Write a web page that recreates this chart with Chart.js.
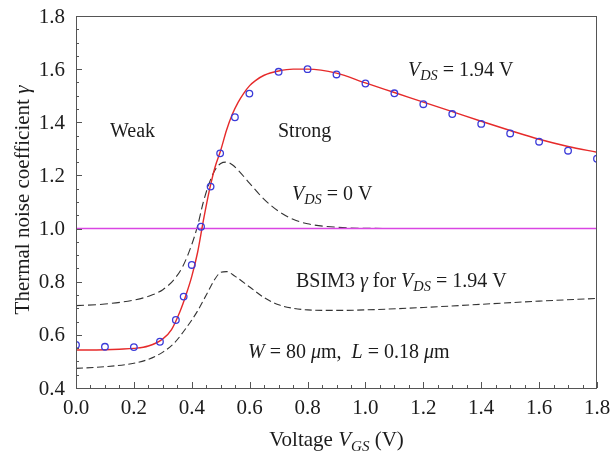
<!DOCTYPE html>
<html>
<head>
<meta charset="utf-8">
<script src="https://cdn.jsdelivr.net/npm/chart.js@4"></script>
<style>
  html, body { margin: 0; padding: 0; background: #fff; }
  #wrap { width: 613px; height: 457px; }
</style>
</head>
<body>
<div id="wrap"><canvas id="c"></canvas></div>
<script>
// --- data ---
// measured points (circles)
const measVgs   = [0.0, 0.1, 0.2, 0.29, 0.345, 0.372, 0.4, 0.432, 0.465, 0.498, 0.549, 0.599, 0.7, 0.8, 0.9, 1.0, 1.1, 1.2, 1.3, 1.4, 1.5, 1.6, 1.7, 1.8];
const measGamma = [0.562, 0.555, 0.554, 0.574, 0.656, 0.744, 0.863, 1.007, 1.158, 1.283, 1.419, 1.508, 1.590, 1.600, 1.580, 1.546, 1.509, 1.468, 1.431, 1.394, 1.358, 1.327, 1.293, 1.263];

// model fit for VDS = 1.94 V (red)
const fitVgs   = [0.0, 0.05, 0.1, 0.15, 0.2, 0.25, 0.3, 0.33, 0.36, 0.38, 0.4, 0.42, 0.44, 0.46, 0.48, 0.5, 0.52, 0.54, 0.56, 0.58, 0.6, 0.62, 0.65, 0.7, 0.75, 0.8, 0.9, 1.0, 1.1, 1.2, 1.3, 1.4, 1.5, 1.6, 1.7, 1.8];
const fitGamma = [0.543, 0.543, 0.544, 0.546, 0.549, 0.558, 0.585, 0.62, 0.69, 0.75, 0.82, 0.91, 1.03, 1.14, 1.23, 1.295, 1.37, 1.43, 1.475, 1.51, 1.538, 1.557, 1.577, 1.593, 1.6, 1.6, 1.585, 1.548, 1.512, 1.476, 1.44, 1.404, 1.369, 1.336, 1.309, 1.287];

// VDS = 0 V curve (upper dashed)
const zeroVgs   = [0.0, 0.1, 0.2, 0.25, 0.3, 0.34, 0.37, 0.4, 0.42, 0.44, 0.46, 0.48, 0.5, 0.52, 0.54, 0.56, 0.6, 0.65, 0.7, 0.75, 0.8, 0.9, 1.0, 1.2, 1.5, 1.8];
const zeroGamma = [0.71, 0.716, 0.731, 0.745, 0.77, 0.81, 0.86, 0.94, 1.01, 1.1, 1.17, 1.22, 1.245, 1.25, 1.24, 1.22, 1.17, 1.11, 1.065, 1.035, 1.018, 1.005, 1.001, 1.0, 1.0, 1.0];

// BSIM3 gamma for VDS = 1.94 V (lower dashed)
const bsimVgs   = [0.0, 0.1, 0.2, 0.25, 0.3, 0.34, 0.38, 0.42, 0.45, 0.48, 0.5, 0.52, 0.55, 0.6, 0.65, 0.7, 0.75, 0.8, 0.9, 1.0, 1.2, 1.4, 1.6, 1.8];
const bsimGamma = [0.474, 0.48, 0.493, 0.508, 0.535, 0.57, 0.625, 0.69, 0.75, 0.81, 0.835, 0.838, 0.82, 0.78, 0.74, 0.713, 0.7, 0.694, 0.692, 0.694, 0.703, 0.715, 0.727, 0.737];

// reference line gamma = 1
const refVgs   = [0.0, 1.8];
const refGamma = [1.0, 1.0];

const xTicks = [0.0, 0.2, 0.4, 0.6, 0.8, 1.0, 1.2, 1.4, 1.6, 1.8];
const yTicks = [0.4, 0.6, 0.8, 1.0, 1.2, 1.4, 1.6, 1.8];

const pts = (xs, ys) => xs.map((x, i) => ({ x: x, y: ys[i] }));

const SERIF = "'Liberation Serif', 'DejaVu Serif', serif";
const TXT = '#1c1c1c';

// draw text made of segments: {t, it, sub}
function richText(ctx, segs, x, y, size) {
  let cx = x;
  segs.forEach(s => {
    const fs = s.sub ? size * 0.72 : size;
    ctx.font = (s.it ? 'italic ' : '') + fs + 'px ' + SERIF;
    ctx.fillText(s.t, cx, s.sub ? y + size * 0.22 : y);
    cx += ctx.measureText(s.t).width;
  });
  return cx - x;
}
function richWidth(ctx, segs, size) {
  let w = 0;
  segs.forEach(s => {
    const fs = s.sub ? size * 0.72 : size;
    ctx.font = (s.it ? 'italic ' : '') + fs + 'px ' + SERIF;
    w += ctx.measureText(s.t).width;
  });
  return w;
}

const decor = {
  id: 'decor',
  afterDraw(chart) {
    const ctx = chart.ctx;
    const a = chart.chartArea;
    const xs = chart.scales.x, ys = chart.scales.y;
    ctx.save();

    // frame
    ctx.strokeStyle = '#555';
    ctx.lineWidth = 1;
    ctx.strokeRect(a.left + 0.5, a.top + 0.5, a.right - a.left - 1, a.bottom - a.top);

    // inward ticks on bottom and left
    ctx.beginPath();
    for (let v = 0; v <= 1.8001; v += 0.05) {
      const px = Math.round(xs.getPixelForValue(v)) + 0.5;
      const major = Math.abs(v / 0.2 - Math.round(v / 0.2)) < 1e-6;
      ctx.moveTo(px, a.bottom);
      ctx.lineTo(px, a.bottom - (major ? 6 : 3));
    }
    for (let v = 0.4; v <= 1.8001; v += 0.05) {
      const py = Math.round(ys.getPixelForValue(v)) + 0.5;
      const major = Math.abs(v / 0.2 - Math.round(v / 0.2)) < 1e-6;
      ctx.moveTo(a.left, py);
      ctx.lineTo(a.left + (major ? 6 : 3), py);
    }
    ctx.stroke();

    ctx.fillStyle = TXT;
    const tf = 21;

    // tick labels
    ctx.font = tf + 'px ' + SERIF;
    ctx.textAlign = 'center';
    ctx.textBaseline = 'alphabetic';
    xTicks.forEach(v => ctx.fillText(v.toFixed(1), xs.getPixelForValue(v), 414));
    ctx.textAlign = 'right';
    ctx.textBaseline = 'middle';
    yTicks.forEach(v => ctx.fillText(v.toFixed(1), 65, ys.getPixelForValue(v) + 1));

    ctx.textBaseline = 'alphabetic';
    ctx.textAlign = 'left';
    const fs = 20;

    richText(ctx, [{ t: 'Weak' }], 110, 137, fs);
    richText(ctx, [{ t: 'Strong' }], 278, 137, fs);
    richText(ctx, [{ t: 'V', it: true }, { t: 'DS', it: true, sub: true }, { t: ' = 1.94 V' }], 408, 76, fs);
    richText(ctx, [{ t: 'V', it: true }, { t: 'DS', it: true, sub: true }, { t: ' = 0 V' }], 292, 200, fs);
    richText(ctx, [{ t: 'BSIM3 ' }, { t: 'γ', it: true }, { t: ' for ' }, { t: 'V', it: true }, { t: 'DS', it: true, sub: true }, { t: ' = 1.94 V' }], 296, 287, fs);
    richText(ctx, [{ t: 'W', it: true }, { t: ' = 80 ' }, { t: 'μ', it: true }, { t: 'm,  ' }, { t: 'L', it: true }, { t: ' = 0.18 ' }, { t: 'μ', it: true }, { t: 'm' }], 248, 358, fs);

    // x axis title
    const xt = [{ t: 'Voltage ' }, { t: 'V', it: true }, { t: 'GS', it: true, sub: true }, { t: ' (V)' }];
    const xw = richWidth(ctx, xt, tf);
    richText(ctx, xt, (a.left + a.right) / 2 - xw / 2, 446, tf);

    // y axis title
    const yt = [{ t: 'Thermal noise coefficient ' }, { t: 'γ', it: true }];
    const yw = richWidth(ctx, yt, tf);
    ctx.translate(29, 200);
    ctx.rotate(-Math.PI / 2);
    richText(ctx, yt, -yw / 2, 0, tf);

    ctx.restore();
  }
};

new Chart(document.getElementById('c'), {
  type: 'line',
  data: {
    datasets: [
      {
        data: pts(measVgs, measGamma), showLine: false, order: 0,
        pointStyle: 'circle', pointRadius: 3.3, pointBorderWidth: 1.3,
        pointBorderColor: '#3b3bd9', pointBackgroundColor: 'rgba(0,0,0,0)'
      },
      {
        data: pts(fitVgs, fitGamma), order: 1, borderColor: '#e62a2a', borderWidth: 1.4,
        pointRadius: 0, cubicInterpolationMode: 'monotone'
      },
      {
        data: pts(refVgs, refGamma), order: 2, borderColor: '#d946e3', borderWidth: 1.4,
        pointRadius: 0
      },
      {
        data: pts(zeroVgs, zeroGamma), order: 3, borderColor: '#333', borderWidth: 1.1,
        borderDash: [8, 4], pointRadius: 0, cubicInterpolationMode: 'monotone'
      },
      {
        data: pts(bsimVgs, bsimGamma), order: 4, borderColor: '#333', borderWidth: 1.1,
        borderDash: [7, 3.5], pointRadius: 0, cubicInterpolationMode: 'monotone'
      }
    ]
  },
  options: {
    responsive: true,
    maintainAspectRatio: false,
    animation: false,
    layout: { padding: { top: 16, right: 16, left: 0, bottom: 0 } },
    plugins: { legend: { display: false }, tooltip: { enabled: false } },
    scales: {
      x: {
        type: 'linear', min: 0, max: 1.8,
        afterFit: s => { s.height = 69; },
        grid: { display: false, drawTicks: false },
        border: { display: false },
        ticks: { display: false }
      },
      y: {
        type: 'linear', min: 0.4, max: 1.8,
        afterFit: s => { s.width = 76; },
        grid: { display: false, drawTicks: false },
        border: { display: false },
        ticks: { display: false }
      }
    }
  },
  plugins: [decor]
});
</script>
</body>
</html>
